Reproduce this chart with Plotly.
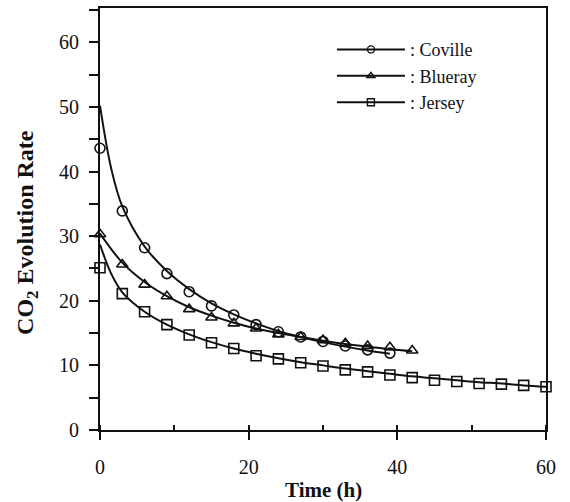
import plotly.graph_objects as go

# ---- data ----
time_pts = [0, 3, 6, 9, 12, 15, 18, 21, 24, 27, 30, 33, 36, 39, 42, 45, 48, 51, 54, 57, 60]

coville_x = time_pts[:14]
coville_y = [43.6, 33.9, 28.2, 24.2, 21.4, 19.2, 17.8, 16.3, 15.2, 14.4, 13.7, 13.0, 12.4, 11.9]

blueray_x = time_pts[:15]
blueray_y = [30.3, 25.6, 22.5, 20.7, 18.7, 17.4, 16.5, 15.7, 14.8, 14.4, 13.9, 13.4, 13.0, 12.8, 12.3]

jersey_x = time_pts
jersey_y = [25.1, 21.1, 18.3, 16.3, 14.7, 13.5, 12.6, 11.5, 11.0, 10.4, 9.9, 9.3, 9.0, 8.5,
            8.1, 7.7, 7.5, 7.2, 7.1, 6.9, 6.7]

# fitted curves
coville_fit_x = [0, 1.5, 3, 6, 9, 12, 15, 18, 21, 24, 27, 30, 33, 36, 39]
coville_fit_y = [50.2, 40.5, 34.6, 28.4, 24.6, 21.8, 19.6, 17.9, 16.5, 15.3, 14.4, 13.6, 12.9, 12.3, 11.8]

blueray_fit_x = [0, 3, 6, 9, 12, 15, 18, 21, 24, 27, 30, 33, 36, 39, 42]
blueray_fit_y = [30.4, 25.9, 22.9, 20.7, 19.0, 17.7, 16.6, 15.7, 15.0, 14.4, 13.8, 13.3, 12.9, 12.5, 12.2]

jersey_fit_x = [0, 1.5, 3, 6, 9, 12, 15, 18, 21, 24, 27, 30, 33, 36, 39, 42, 45, 48, 51, 54, 57, 60]
jersey_fit_y = [28.7, 24.2, 21.3, 18.3, 16.3, 14.8, 13.6, 12.6, 11.8, 11.1, 10.5, 10.0, 9.5, 9.1,
                8.7, 8.3, 8.0, 7.7, 7.4, 7.2, 6.9, 6.7]

names = [": Coville", ": Blueray", ": Jersey"]
symbols = ["circle-open", "triangle-up-open", "square-open"]

x_ticks = [0, 20, 40, 60]
x_ticklabels = ["0", "20", "40", "60"]
y_ticks = [0, 10, 20, 30, 40, 50, 60]
x_title = "<b>Time (h)</b>"
y_title = "<b>CO<sub>2</sub> Evolution Rate</b>"

FONT = "Liberation Serif"
BLACK = "#111111"

fig = go.Figure()

series = [
    (coville_fit_x, coville_fit_y, coville_x, coville_y),
    (blueray_fit_x, blueray_fit_y, blueray_x, blueray_y),
    (jersey_fit_x, jersey_fit_y, jersey_x, jersey_y),
]

for (fx, fy, mx, my), name, sym in zip(series, names, symbols):
    fig.add_trace(go.Scatter(x=fx, y=fy, mode="lines", line=dict(color=BLACK, width=2, shape="spline", smoothing=1.0),
                             showlegend=False, hoverinfo="skip", cliponaxis=False))
    fig.add_trace(go.Scatter(x=mx, y=my, mode="markers",
                             marker=dict(symbol=sym, size=10, color=BLACK, line=dict(width=1.6, color=BLACK)),
                             showlegend=False, cliponaxis=False))
    # legend entry
    fig.add_trace(go.Scatter(x=[None], y=[None], mode="lines+markers", name=name,
                             line=dict(color=BLACK, width=2),
                             marker=dict(symbol=sym, size=7, color=BLACK, line=dict(width=1.4, color=BLACK))))

fig.update_layout(
    width=570, height=502,
    margin=dict(l=100, r=24, t=8, b=72, autoexpand=False),
    paper_bgcolor="white", plot_bgcolor="white",
    font=dict(family=FONT, size=19, color=BLACK),
    showlegend=True,
    legend=dict(x=0.52, y=0.945, xanchor="left", yanchor="top", bgcolor="rgba(0,0,0,0)",
                font=dict(family=FONT, size=18, color=BLACK), itemwidth=68, tracegroupgap=0),
    xaxis=dict(range=[0, 60], tickvals=x_ticks, ticktext=x_ticklabels, ticks="outside", ticklen=8,
               tickwidth=1.5, tickcolor=BLACK, showline=True, linecolor=BLACK, linewidth=2,
               mirror=True, showgrid=False, zeroline=False, ticklabelstandoff=10, automargin=False,
               minor=dict(dtick=10, ticks="inside", ticklen=5, tickwidth=1.5, tickcolor=BLACK, showgrid=False),
               tickfont=dict(size=20)),
    yaxis=dict(range=[0, 65.3], tickvals=y_ticks, ticks="outside", ticklen=9,
               tickwidth=1.5, tickcolor=BLACK, showline=True, linecolor=BLACK, linewidth=2,
               mirror=True, showgrid=False, zeroline=False, ticklabelstandoff=6, automargin=False,
               minor=dict(tick0=5, dtick=10, ticks="outside", ticklen=9, tickwidth=1.5, tickcolor=BLACK, showgrid=False),
               tickfont=dict(size=20)),
    annotations=[
        dict(text=x_title, xref="paper", yref="paper", x=0.5, y=0, xanchor="center", yanchor="middle",
             yshift=-60, showarrow=False, font=dict(family=FONT, size=21, color=BLACK)),
        dict(text=y_title, xref="paper", yref="paper", x=-0.164, y=0.469, xanchor="center", yanchor="middle",
             textangle=-90, showarrow=False, font=dict(family=FONT, size=24, color=BLACK)),
    ],
)

fig.write_html("out.html")
